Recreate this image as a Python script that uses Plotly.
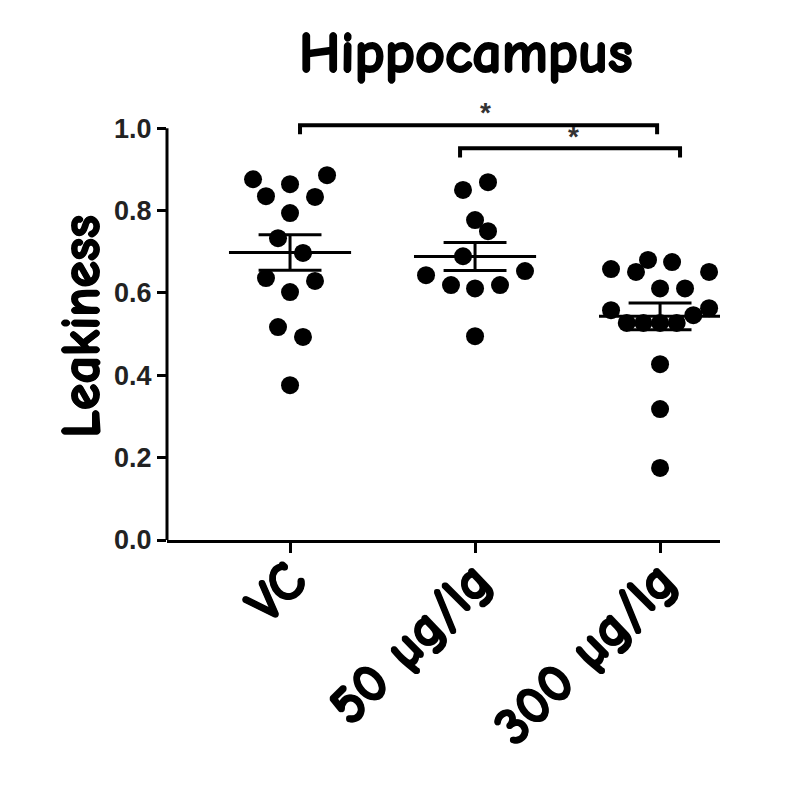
import numpy as np
import plotly.graph_objects as go

groups = ["VC", "50 µg/lg", "300 µg/lg"]

vc_vals = [0.876, 0.886, 0.864, 0.835, 0.833, 0.794, 0.733, 0.697, 0.636, 0.629, 0.602, 0.517, 0.493, 0.376]
low_vals = [0.850, 0.869, 0.777, 0.750, 0.689, 0.643, 0.619, 0.611, 0.619, 0.653, 0.495]
high_vals = [0.658, 0.651, 0.680, 0.675, 0.651, 0.611, 0.611, 0.558, 0.563, 0.546,
             0.527, 0.527, 0.527, 0.527, 0.427, 0.318, 0.175]

# horizontal spread of the dots (beeswarm style), in category units
vc_jit = [-0.2, 0.2, 0, -0.13, 0.135, 0, -0.065, 0.07, -0.13, 0.135, 0, -0.065, 0.07, 0]
low_jit = [-0.065, 0.07, 0, 0.07, -0.065, -0.265, -0.13, 0, 0.135, 0.27, 0]
high_jit = [-0.265, -0.13, -0.065, 0.065, 0.265, 0, 0.135, -0.265, 0.265, 0.18,
            -0.18, -0.09, 0, 0.09, 0, 0, 0]

all_vals = [vc_vals, low_vals, high_vals]
all_jit = [vc_jit, low_jit, high_jit]

fig = go.Figure()

for i, (vals, jit) in enumerate(zip(all_vals, all_jit)):
    fig.add_trace(go.Scatter(
        x=[i + j for j in jit], y=vals, mode="markers",
        marker=dict(color="black", size=18), cliponaxis=False, showlegend=False,
    ))
    v = np.array(vals)
    m = v.mean()
    sem = v.std(ddof=1) / np.sqrt(len(v))
    lw = dict(color="black", width=3)
    fig.add_trace(go.Scatter(x=[i - 0.33, i + 0.33], y=[m, m], mode="lines",
                             line=lw, showlegend=False))
    fig.add_trace(go.Scatter(x=[i, i], y=[m - sem, m + sem], mode="lines",
                             line=lw, showlegend=False))
    for e in (m - sem, m + sem):
        fig.add_trace(go.Scatter(x=[i - 0.17, i + 0.17], y=[e, e], mode="lines",
                                 line=lw, showlegend=False))

# significance brackets
def bracket(x0, x1, y, star_x, star_y):
    fig.add_shape(type="path", xref="x", yref="y",
                  path=f"M {x0},{y-0.022} L {x0},{y} L {x1},{y} L {x1},{y-0.022}",
                  line=dict(color="black", width=4))
    fig.add_annotation(x=star_x, y=star_y, xref="x", yref="y", text="<b>*</b>",
                       showarrow=False, font=dict(size=28, color="#333", family="Arial"))

bracket(0.054, 1.984, 1.007, 1.054, 1.037)
bracket(0.919, 2.108, 0.951, 1.53, 0.981)

# y axis line only up to 1.0
fig.add_shape(type="line", xref="paper", yref="y", x0=0, x1=0, y0=0, y1=1.0,
              line=dict(color="black", width=3))

comic = "Comic Sans MS, Comic Neue, DejaVu Sans, sans-serif"
thick = "1px 0 0 black, -1px 0 0 black, 0 1px 0 black, 0 -1px 0 black"

fig.add_annotation(x=0.54, xref="paper", y=1.073, yref="paper", yanchor="middle",
                   text="Hippocampus", showarrow=False,
                   font=dict(size=58, family=comic, color="black", weight="bold", shadow=thick))
fig.add_annotation(xref="paper", yref="paper", x=-0.215, y=0.472, yanchor="middle",
                   text="Leakiness", textangle=-90, showarrow=False,
                   font=dict(size=54, family=comic, color="black", weight="bold", shadow=thick))

fig.update_layout(
    width=796, height=803,
    margin=dict(l=159, r=84, t=79, b=271),
    plot_bgcolor="white", paper_bgcolor="white",
    xaxis=dict(
        range=[-0.665, 2.324], tickvals=[0, 1, 2], ticktext=groups,
        tickangle=-45, showline=True, linecolor="black", linewidth=3,
        ticks="outside", ticklen=10, tickwidth=3, tickcolor="black",
        ticklabelstandoff=-26,
        showgrid=False, zeroline=False,
        tickfont=dict(size=54, family=comic, color="black", weight="bold", shadow=thick),
    ),
    yaxis=dict(
        range=[0, 1.1], tickvals=[0, 0.2, 0.4, 0.6, 0.8, 1.0],
        ticktext=["0.0", "0.2", "0.4", "0.6", "0.8", "1.0"],
        showline=False, ticks="outside", ticklen=9, tickwidth=3, tickcolor="black",
        showgrid=False, zeroline=False,
        tickfont=dict(size=27, family="Liberation Sans, Arial", color="#222", weight="bold"),
    ),
)

fig.write_html("out.html")
